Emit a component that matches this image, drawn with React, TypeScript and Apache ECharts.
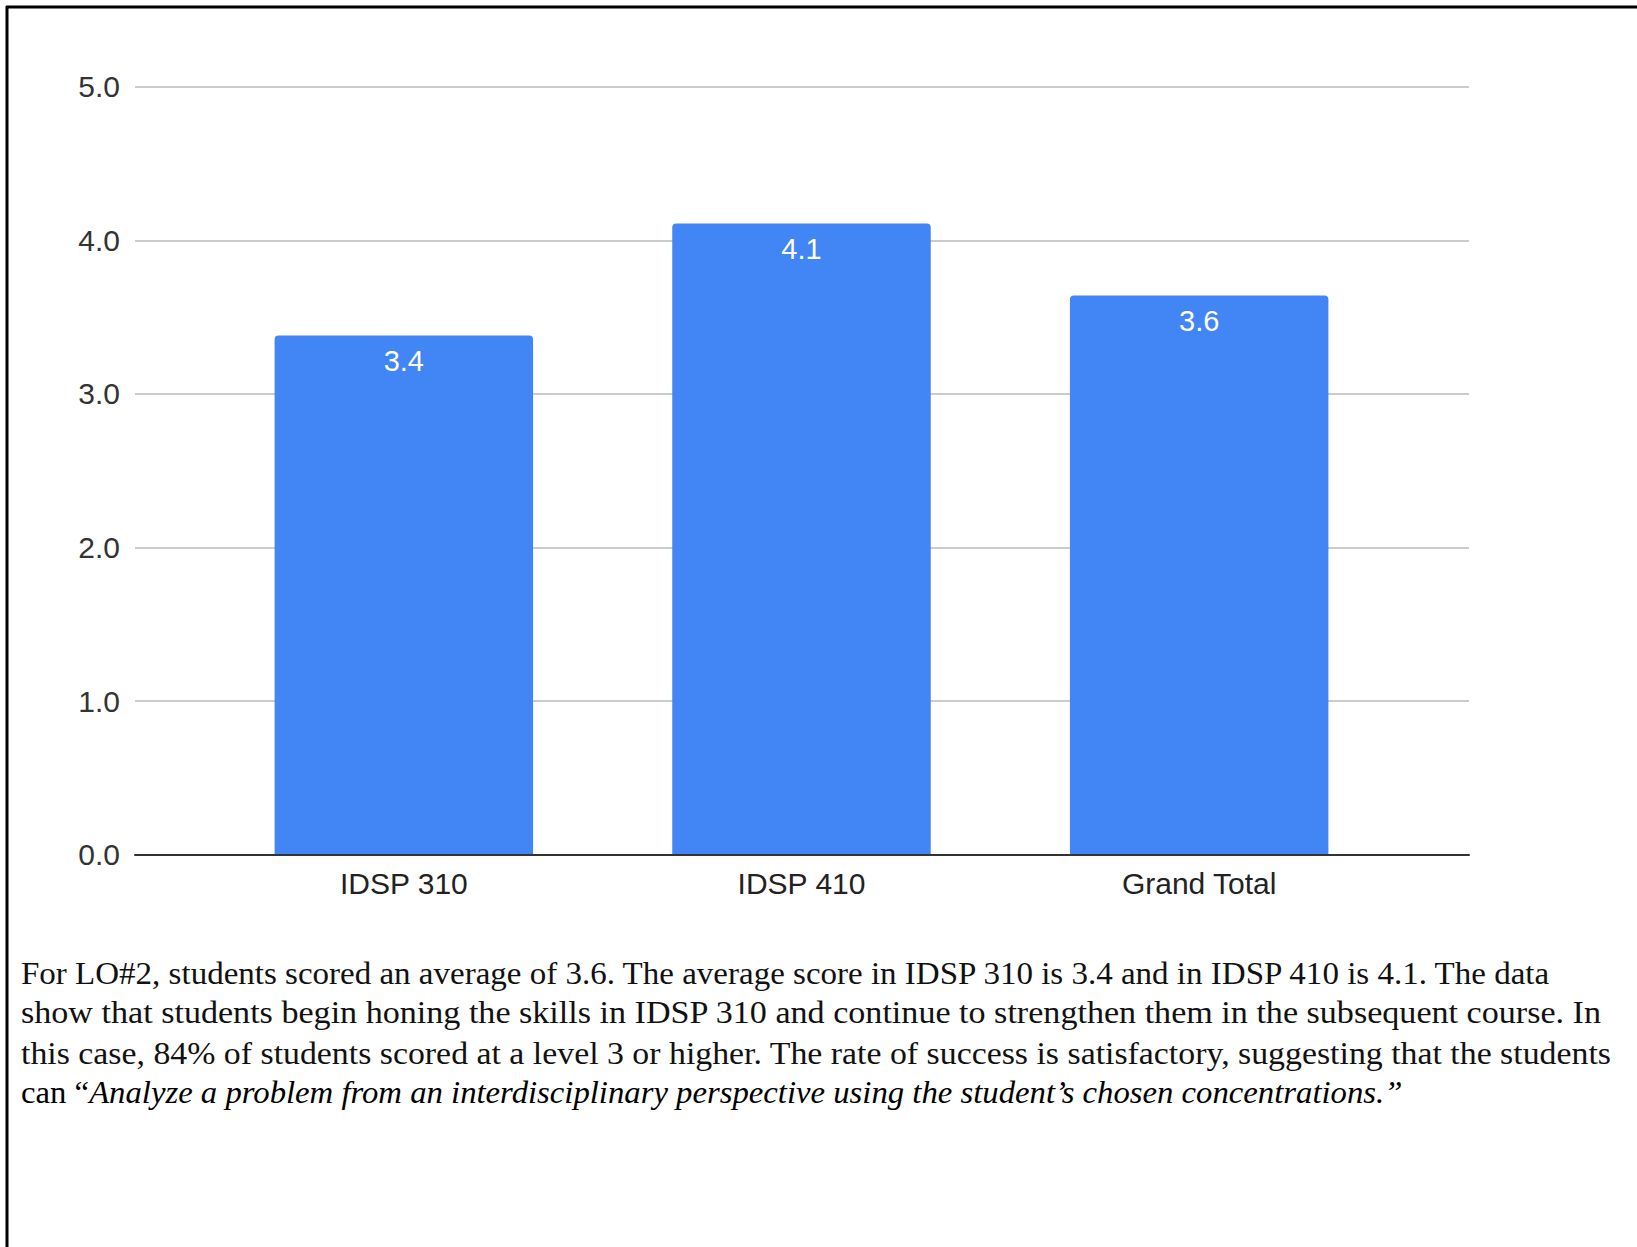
import React, { useEffect, useRef } from "react";
import * as echarts from "echarts";

const categories = ["IDSP 310", "IDSP 410", "Grand Total"];
const averageScores = [3.38, 4.11, 3.64];
const yTicks = { min: 0, max: 5, interval: 1 };

const paragraphLines = [
  "For LO#2, students scored an average of 3.6. The average score in IDSP 310 is 3.4 and in IDSP 410 is 4.1. The data",
  "show that students begin honing the skills in IDSP 310 and continue to strengthen them in the subsequent course. In",
  "this case, 84% of students scored at a level 3 or higher. The rate of success is satisfactory, suggesting that the students",
];
const lastLinePlain = "can \u201c";
const lastLineItalic = "Analyze a problem from an interdisciplinary perspective using the student\u2019s chosen concentrations.\u201d";

// right edges of the paragraph lines in the reference (layout)
const lineRightEdges = [1553, 1602, 1612, 1403];

const W = 1637;
const H = 1247;

export default function App() {
  const ref = useRef<HTMLDivElement>(null);
  useEffect(() => {
    if (!ref.current) return;
    const chart = echarts.init(ref.current, undefined, { renderer: "svg" });
    const sans = "'Liberation Sans', Arial, sans-serif";
    const serif = "'Liberation Serif', 'Times New Roman', serif";
    const textSize = 31;
    const textLeft = 21;
    const lineTop = 973;
    const lineGap = 40;

    const canvas = document.createElement("canvas");
    const ctx = canvas.getContext("2d")!;
    const measure = (t: string, italic = false) => {
      ctx.font = `${italic ? "italic " : ""}${textSize}px ${serif}`;
      return ctx.measureText(t).width;
    };

    const graphics: any[] = [
      { type: "line", shape: { x1: 6, y1: 7, x2: W, y2: 7 }, style: { stroke: "#000", lineWidth: 3 } },
      { type: "line", shape: { x1: 7, y1: 6, x2: 7, y2: H }, style: { stroke: "#000", lineWidth: 3 } },
    ];
    paragraphLines.forEach((t, i) => {
      const w = measure(t);
      graphics.push({
        type: "text",
        x: textLeft,
        y: lineTop + i * lineGap,
        scaleX: (lineRightEdges[i] - textLeft) / w,
        style: { text: t, font: `${textSize}px ${serif}`, fill: "#111", verticalAlign: "middle", textAlign: "left" },
      });
    });
    const w4 = measure(lastLinePlain) + measure(lastLineItalic, true);
    graphics.push({
      type: "text",
      x: textLeft,
      y: lineTop + 3 * lineGap,
      scaleX: (lineRightEdges[3] - textLeft) / w4,
      style: {
        text: `{n|${lastLinePlain}}{i|${lastLineItalic}}`,
        verticalAlign: "middle",
        textAlign: "left",
        rich: {
          n: { fontFamily: serif, fontSize: textSize, color: "#111" },
          i: { fontFamily: serif, fontSize: textSize, fontStyle: "italic", color: "#111" },
        },
      },
    });

    chart.setOption({
      animation: false,
      backgroundColor: "#fff",
      grid: [
        { left: 135, right: W - 1469, top: 86.7, bottom: H - 854.7 },
        { left: 205, right: W - 1398, top: 86.7, bottom: H - 854.7 },
      ],
      xAxis: [
        {
          type: "value",
          gridIndex: 0,
          min: 0,
          max: 1,
          z: 5,
          axisLine: { show: true, lineStyle: { color: "#333", width: 2 } },
          axisTick: { show: false },
          axisLabel: { show: false },
          splitLine: { show: false },
        },
        {
          type: "category",
          gridIndex: 1,
          data: categories,
          axisLine: { show: false },
          axisTick: { show: false },
          axisLabel: { color: "#222", fontSize: 30, fontFamily: sans, margin: 14 },
        },
      ],
      yAxis: [
        {
          type: "value",
          gridIndex: 0,
          min: yTicks.min,
          max: yTicks.max,
          interval: yTicks.interval,
          axisLine: { show: false },
          axisTick: { show: false },
          axisLabel: {
            color: "#333",
            fontSize: 30,
            fontFamily: sans,
            margin: 15,
            formatter: (v: number) => v.toFixed(1),
          },
          splitLine: { lineStyle: { color: "#cccccc", width: 2 } },
        },
        {
          type: "value",
          gridIndex: 1,
          min: yTicks.min,
          max: yTicks.max,
          interval: yTicks.interval,
          show: false,
          splitLine: { show: false },
        },
      ],
      series: [
        {
          type: "bar",
          xAxisIndex: 1,
          yAxisIndex: 1,
          data: averageScores,
          barWidth: "65%",
          itemStyle: { color: "#4285F4", borderRadius: [4, 4, 0, 0] },
          label: {
            show: true,
            position: "insideTop",
            distance: 11,
            color: "#fff",
            fontSize: 29,
            fontFamily: sans,
            formatter: (p: any) => Number(p.value).toFixed(1),
          },
        },
      ],
      graphic: graphics,
    });
    return () => chart.dispose();
  }, []);
  return (
    <div
      ref={ref}
      style={{ position: "absolute", left: 0, top: 0, width: W, height: H }}
    />
  );
}
